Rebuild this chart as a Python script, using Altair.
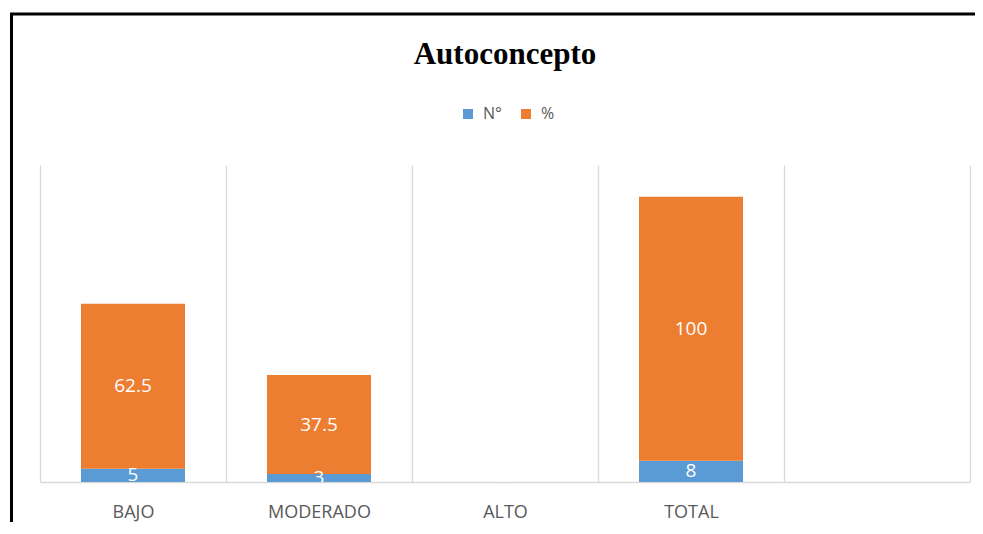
import altair as alt
import pandas as pd

categories = ["BAJO", "MODERADO", "ALTO", "TOTAL"]
n_values = [5, 3, 0, 8]
pct_values = [62.5, 37.5, 0, 100]
series = ["N°", "%"]
colors = ["#5B9BD5", "#ED7D31"]
axis_domain = categories + [""]

rows = []
for c, n, p in zip(categories, n_values, pct_values):
    rows.append({"cat": c, "serie": series[0], "value": n, "ord": 0, "label": f"{n:g}"})
    rows.append({"cat": c, "serie": series[1], "value": p, "ord": 1, "label": f"{p:g}"})
df = pd.DataFrame(rows)

x_scale = alt.Scale(domain=axis_domain, paddingInner=0, paddingOuter=0)
y_scale = alt.Scale(domain=[0, 120], nice=False, zero=True)

x_axis = alt.Axis(
    title=None, labelAngle=0, grid=True, gridColor="#d9d9d9", gridWidth=1.3,
    tickBand="extent", ticks=False, domainColor="#d9d9d9", domainWidth=1.3,
    labelFont="Open Sans", labelFontSize=18, labelColor="#595959",
    labelPadding=35, labelBaseline="alphabetic",
)

frame = alt.Chart(pd.DataFrame({"k": [0]})).mark_rect(
    fill=None, fillOpacity=0, stroke="black", strokeWidth=3
).encode(
    x=alt.value(-28.5), x2=alt.value(1020), y=alt.value(-151), y2=alt.value(700)
)

bars = alt.Chart(df).mark_bar(size=104).encode(
    x=alt.X("cat:N", scale=x_scale, sort=axis_domain, axis=x_axis),
    y=alt.Y("value:Q", stack="zero", scale=y_scale, axis=None),
    color=alt.Color(
        "serie:N",
        scale=alt.Scale(domain=series, range=colors),
        legend=alt.Legend(
            title=None, orient="none", legendX=420, legendY=-59,
            direction="horizontal", symbolType="square", symbolSize=100,
            symbolStrokeWidth=0, labelFont="Open Sans", labelFontSize=16,
            labelColor="#595959", labelOffset=7, columnPadding=16,
        ),
    ),
    order=alt.Order("ord:Q"),
)

text = alt.Chart(df).transform_stack(
    stack="value", groupby=["cat"], as_=["v0", "v1"], sort=[alt.SortField("ord")]
).transform_calculate(
    mid="(datum.v0 + datum.v1) / 2"
).mark_text(
    color="white", font="Open Sans", fontSize=19, baseline="middle", clip=True
).encode(
    x=alt.X("cat:N", scale=x_scale, sort=axis_domain, axis=x_axis),
    y=alt.Y("mid:Q", scale=y_scale, axis=None),
    text="label:N",
)

chart = alt.layer(frame, bars, text).properties(
    width=930,
    height=317,
    padding={"left": 32, "top": 157, "right": 5, "bottom": 40},
    autosize="none",
    title=alt.TitleParams(
        "Autoconcepto", font="Liberation Serif", fontSize=31, fontWeight="bold",
        color="black", anchor="middle", frame="group", offset=-82.5,
        baseline="alphabetic",
    ),
).configure_view(stroke=None)

chart.save("out.html", embed_options={"renderer": "svg", "actions": False})
